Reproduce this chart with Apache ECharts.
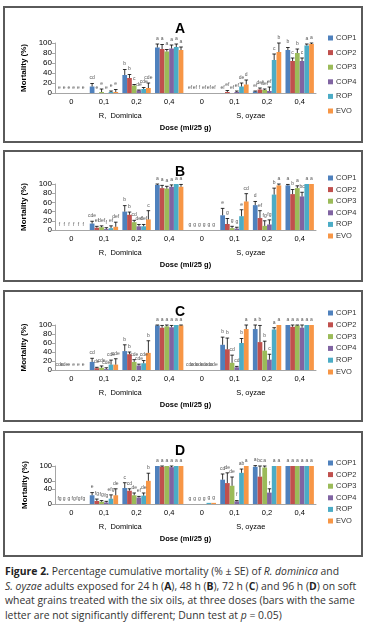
<!DOCTYPE html>
<html lang="en">
<head>
  <meta charset="UTF-8">
  <title>Mortality chart</title>
  <script src="https://cdn.jsdelivr.net/npm/echarts@6/dist/echarts.min.js"></script>
  <style type="text/css">
    body { margin: 0; background: #fff; width: 369px; height: 630px; position: relative; overflow: hidden; }
    .frame { position: absolute; left: 3px; width: 360px; border: 2px solid #5a5a5a; box-sizing: border-box; }
    .chart { position: absolute; left: 0; width: 369px; }
    #caption { position: absolute; left: 5px; top: 564px; font-family: "Open Sans", "Noto Sans", sans-serif; font-size: 10.4px; line-height: 14.6px; color: #333; white-space: nowrap; }
    #caption b { color: #222; }
  </style>
</head>
<body>
  <div class="frame" style="top:6px;height:137px"></div>
  <div class="frame" style="top:150px;height:132px"></div>
  <div class="frame" style="top:290px;height:132px"></div>
  <div class="frame" style="top:431px;height:126px"></div>
  <div id="chartA" class="chart" style="top:6px;height:137px"></div>
  <div id="chartB" class="chart" style="top:150px;height:132px"></div>
  <div id="chartC" class="chart" style="top:290px;height:132px"></div>
  <div id="chartD" class="chart" style="top:431px;height:126px"></div>
  <div id="caption">
    <b>Figure 2.</b> Percentage cumulative mortality (% ± SE) of <i>R. dominica</i> and<br>
    <i>S. oyzae</i> adults exposed for 24 h (<b>A</b>), 48 h (<b>B</b>), 72 h (<b>C</b>) and 96 h (<b>D</b>) on soft<br>
    wheat grains treated with the six oils, at three doses (bars with the same<br>
    letter are not significantly different; Dunn test at <i>p</i> = 0.05)
  </div>
  <script type="text/javascript">
    var doses = ['0', '0,1', '0,2', '0,4', '0', '0,1', '0,2', '0,4']
    var species = ['R,  Dominica', 'S, oyzae']
    var oils = ['COP1', 'COP2', 'COP3', 'COP4', 'ROP', 'EVO']
    var colors = ['#4f81bd', '#c0504d', '#9bbb59', '#8064a2', '#4bacc6', '#f79646']
    var yTicks = [0, 20, 40, 60, 80, 100]

    // rows = oils, columns = doses (R. dominica then S. oyzae)
    var meanA = [
      [0, 13, 36, 91, 0, 0, 3, 86],
      [0, 0, 30, 88, 0, 2, 7, 64],
      [0, 2, 15, 83, 0, 0, 6, 80],
      [0, 0, 5, 89, 0, 2, 4, 64],
      [0, 2, 8, 92, 0, 13, 66, 95],
      [0, 2, 10, 86, 0, 17, 82, 98]
    ]
    var errA = [
      [0, 6, 11, 7, 0, 0, 1, 5],
      [0, 0, 7, 9, 0, 3, 3, 6],
      [0, 6, 2, 4, 0, 0, 2, 8],
      [0, 0, 1, 7, 0, 2, 8, 6],
      [0, 2, 3, 6, 0, 7, 12, 3],
      [0, 5, 10, 6, 0, 9, 18, 2]
    ]
    var letA = [
      ['e', 'cd', 'b', 'a', 'ef', 'ef', 'ef', 'b'],
      ['e', 'e', 'b', 'a', 'ef', 'ef', 'def', 'c'],
      ['e', 'e', 'c', 'a', 'f', 'ef', 'def', 'b'],
      ['e', 'e', 'de', 'a', 'ef', 'ef', 'ef', 'c'],
      ['e', 'e', 'cde', 'a', 'ef', 'de', 'c', 'a'],
      ['e', 'e', 'cde', 'a', 'ef', 'd', 'b', 'a']
    ]

    var meanB = [
      [0, 14, 40, 98, 0, 32, 54, 97],
      [0, 5, 33, 91, 0, 13, 26, 78],
      [0, 6, 17, 90, 0, 4, 9, 91],
      [0, 2, 8, 94, 0, 3, 12, 73],
      [0, 4, 8, 100, 0, 30, 77, 100],
      [0, 7, 23, 94, 0, 62, 97, 100]
    ]
    var errB = [
      [0, 5, 13, 2, 0, 15, 8, 2],
      [0, 3, 6, 6, 0, 12, 16, 10],
      [0, 3, 4, 5, 0, 4, 11, 5],
      [0, 3, 4, 4, 0, 3, 10, 9],
      [0, 5, 4, 0, 0, 14, 14, 0],
      [0, 10, 19, 5, 0, 17, 3, 0]
    ]
    var letB = [
      ['f', 'cde', 'b', 'a', 'g', 'e', 'd', 'a'],
      ['f', 'ef', 'b', 'a', 'g', 'g', 'ef', 'b'],
      ['f', 'def', 'cd', 'a', 'g', 'g', 'fg', 'a'],
      ['f', 'f', 'def', 'a', 'g', 'g', 'fg', 'bc'],
      ['f', 'ef', 'def', 'a', 'g', 'e', 'b', 'a'],
      ['f', 'def', 'c', 'a', 'g', 'cd', 'a', 'a']
    ]

    var meanC = [
      [0, 18, 42, 99, 0, 56, 91, 100],
      [0, 4, 35, 94, 0, 46, 62, 96],
      [0, 5, 18, 97, 0, 16, 43, 99],
      [0, 2, 10, 95, 0, 6, 23, 94],
      [0, 12, 15, 100, 0, 60, 90, 100],
      [0, 12, 38, 99, 0, 91, 100, 100]
    ]
    var errC = [
      [0, 8, 14, 1, 0, 17, 9, 0],
      [0, 2, 5, 5, 0, 25, 37, 4],
      [0, 4, 5, 3, 0, 17, 21, 1],
      [0, 3, 3, 4, 0, 2, 12, 6],
      [0, 10, 6, 0, 0, 10, 4, 0],
      [0, 13, 27, 1, 0, 9, 0, 0]
    ]
    var letC = [
      ['cde', 'cd', 'b', 'a', 'cde', 'b', 'a', 'a'],
      ['cde', 'de', 'b', 'a', 'cde', 'b', 'b', 'a'],
      ['e', 'cde', 'cde', 'a', 'cde', 'cd', 'b', 'a'],
      ['e', 'cde', 'cde', 'a', 'cde', 'cd', 'c', 'a'],
      ['e', 'cde', 'cde', 'a', 'cde', 'b', 'a', 'a'],
      ['e', 'cde', 'b', 'a', 'cde', 'a', 'a', 'a']
    ]

    var meanD = [
      [0, 23, 42, 100, 0, 64, 98, 100],
      [0, 8, 35, 98, 0, 55, 72, 100],
      [0, 6, 23, 100, 0, 48, 96, 100],
      [0, 4, 17, 97, 0, 7, 30, 100],
      [0, 14, 22, 100, 3, 82, 100, 100],
      [0, 23, 61, 100, 3, 100, 100, 100]
    ]
    var errD = [
      [0, 7, 14, 0, 0, 15, 3, 0],
      [0, 5, 5, 2, 0, 27, 28, 0],
      [0, 3, 6, 0, 0, 23, 4, 0],
      [0, 3, 3, 3, 0, 2, 10, 0],
      [0, 10, 7, 0, 0, 10, 0, 0],
      [0, 17, 20, 0, 0, 0, 0, 0]
    ]
    var letD = [
      ['fg', 'e', 'c', 'a', 'g', 'cd', 'a', 'a'],
      ['g', 'fg', 'cd', 'a', 'g', 'de', 'bc', 'a'],
      ['g', 'fg', 'de', 'a', 'g', 'de', 'a', 'a'],
      ['fg', 'fg', 'ef', 'a', 'g', 'f', 'f', 'a'],
      ['fg', 'efg', 'de', 'a', 'g', 'ab', 'a', 'a'],
      ['fg', 'de', 'b', 'a', 'g', 'a', 'a', 'a']
    ]

    var catGap = 0.13

    function init (id, title, mean, err, letters, lay) {
      var myChart = echarts.init(document.getElementById(id), null, { renderer: 'canvas' })
      var series = oils.map(function (name, i) {
        return {
          name: name,
          type: 'bar',
          data: mean[i],
          barGap: '0%',
          barCategoryGap: (catGap * 100) + '%',
          itemStyle: { color: colors[i] },
          animation: false
        }
      })
      var errData = []
      oils.forEach(function (name, i) {
        mean[i].forEach(function (v, j) {
          errData.push([j, i, v, err[i][j], letters[i][j]])
        })
      })
      series.push({
        type: 'custom',
        data: errData,
        encode: { x: 0, y: 2 },
        clip: false,
        z: 5,
        animation: false,
        renderItem: function (params, api) {
          var cat = api.value(0)
          var s = api.value(1)
          var v = api.value(2)
          var e = api.value(3)
          var txt = errData[params.dataIndex][4]
          var band = api.size([1, 0])[0]
          var groupW = band * (1 - catGap)
          var barW = groupW / oils.length
          var base = api.coord([cat, v])
          var top = api.coord([cat, v + e])
          var x = base[0] - groupW / 2 + barW * (s + 0.5)
          var children = []
          if (e > 0) {
            children.push({ type: 'line', shape: { x1: x, y1: base[1], x2: x, y2: top[1] }, style: { stroke: '#000', lineWidth: 0.8 } })
            children.push({ type: 'line', shape: { x1: x - 1.8, y1: top[1], x2: x + 1.8, y2: top[1] }, style: { stroke: '#000', lineWidth: 0.8 } })
          }
          children.push({
            type: 'text',
            style: { text: txt, x: x, y: top[1] - 3, align: 'center', verticalAlign: 'bottom', fontSize: 5, fill: '#555', fontFamily: 'Liberation Sans' }
          })
          return { type: 'group', children: children }
        }
      })
      var option = {
        animation: false,
        textStyle: { fontFamily: 'Liberation Sans' },
        title: {
          text: title,
          left: 170,
          top: lay.titleTop,
          textStyle: { fontSize: 14, fontWeight: 'bold', color: '#000', fontFamily: 'Liberation Sans' }
        },
        legend: {
          data: oils,
          orient: 'vertical',
          left: 323,
          top: lay.legendTop,
          itemWidth: 5,
          itemHeight: 5,
          itemGap: lay.legendGap,
          icon: 'rect',
          textStyle: { fontSize: 7.5, color: '#333', lineHeight: 8, padding: [0, 0, 0, -2] }
        },
        grid: {
          left: 55,
          right: 53,
          top: lay.gridTop,
          height: lay.gridH
        },
        xAxis: [
          {
            type: 'category',
            data: doses,
            axisLine: { lineStyle: { color: '#a6a6a6', width: 1 } },
            axisTick: { length: 15, interval: 0, lineStyle: { color: '#bfbfbf' } },
            axisLabel: { fontSize: 7.5, color: '#000', margin: 5, interval: 0 }
          },
          {
            type: 'category',
            data: species,
            position: 'bottom',
            offset: 15,
            axisLine: { show: false },
            axisTick: { length: 15, interval: 0, lineStyle: { color: '#bfbfbf' } },
            axisLabel: { fontSize: 7.5, color: '#000', margin: 4, interval: 0 },
            name: 'Dose (ml/25 g)',
            nameLocation: 'middle',
            nameGap: 16,
            nameTextStyle: { fontSize: 7.5, fontWeight: 'bold', color: '#000' }
          }
        ],
        yAxis: {
          type: 'value',
          min: yTicks[0],
          max: yTicks[yTicks.length - 1],
          interval: 20,
          axisLine: { show: true, lineStyle: { color: '#a6a6a6' } },
          axisTick: { show: true, length: 3, lineStyle: { color: '#a6a6a6' } },
          splitLine: { show: false },
          axisLabel: { fontSize: lay.yFont, color: '#000', margin: 3, showMaxLabel: true, showMinLabel: true, hideOverlap: false },
          name: 'Mortality (%)',
          nameLocation: 'middle',
          nameGap: 19,
          nameTextStyle: { fontSize: 8, fontWeight: 'bold', color: '#000' }
        },
        series: series
      }
      myChart.setOption(option)
    }

    init('chartA', 'A', meanA, errA, letA, { titleTop: 11, legendTop: 23, legendGap: 6.6, gridTop: 37, gridH: 50, yFont: 8 })
    init('chartB', 'B', meanB, errB, letB, { titleTop: 10, legendTop: 19, legendGap: 3.6, gridTop: 34, gridH: 46, yFont: 8 })
    init('chartC', 'C', meanC, errC, letC, { titleTop: 10, legendTop: 14, legendGap: 3.8, gridTop: 35, gridH: 45, yFont: 8 })
    init('chartD', 'D', meanD, errD, letD, { titleTop: 8, legendTop: 23, legendGap: 3.6, gridTop: 35, gridH: 38, yFont: 7.5 })
  </script>
</body>
</html>
